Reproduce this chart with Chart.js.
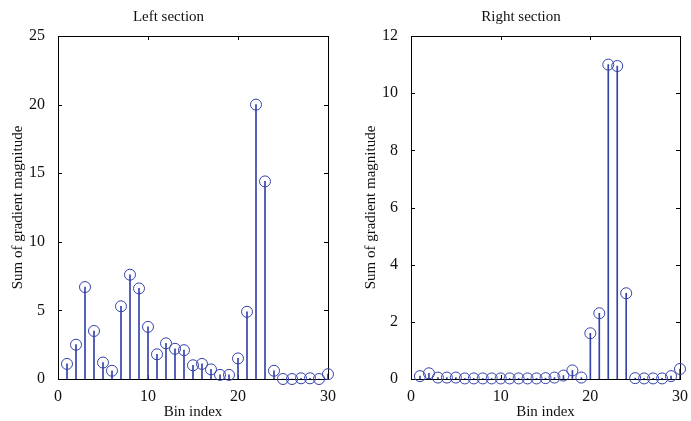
<!DOCTYPE html>
<html>
<head>
<meta charset="utf-8">
<script src="https://cdn.jsdelivr.net/npm/chart.js@4.4.0/dist/chart.umd.min.js"></script>
<style>
  html, body { margin: 0; padding: 0; background: #fff; }
  .wrap { position: absolute; top: 0; height: 421px; }
  #leftWrap { left: 0; width: 340px; }
  #rightWrap { left: 353px; width: 338px; }
</style>
</head>
<body>
<div class="wrap" id="leftWrap"><canvas id="leftChart"></canvas></div>
<div class="wrap" id="rightWrap"><canvas id="rightChart"></canvas></div>
<script>
var bins = [1,2,3,4,5,6,7,8,9,10,11,12,13,14,15,16,17,18,19,20,21,22,23,24,25,26,27,28,29,30];
var leftValues = [1.1,2.5,6.7,3.5,1.2,0.6,5.3,7.6,6.6,3.8,1.8,2.6,2.2,2.1,1.0,1.1,0.7,0.3,0.3,1.5,4.9,20.0,14.4,0.6,0.0,0.0,0.05,0.05,0.0,0.35];
var rightValues = [0.1,0.2,0.05,0.05,0.05,0.02,0.02,0.02,0.02,0.02,0.02,0.02,0.02,0.02,0.03,0.05,0.12,0.3,0.05,1.6,2.3,11.0,10.95,3.0,0.03,0.02,0.02,0.02,0.1,0.35];
var xTicks = [0,10,20,30];
var leftYTicks = [0,5,10,15,20,25];
var rightYTicks = [0,2,4,6,8,10,12];

var markColor = '#3442aa';
var serif = '"Liberation Serif", "DejaVu Serif", serif';

var framePlugin = {
  id: 'frame',
  beforeDatasetsDraw: function (chart) {
    var ctx = chart.ctx, a = chart.chartArea, x = chart.scales.x, y = chart.scales.y;
    ctx.save();
    ctx.strokeStyle = '#000';
    ctx.lineWidth = 1;
    ctx.strokeRect(Math.round(a.left) + 0.5, Math.round(a.top) + 0.5, Math.round(a.width), Math.round(a.height));
    ctx.beginPath();
    x.ticks.forEach(function (t) {
      var px = Math.round(x.getPixelForValue(t.value)) + 0.5;
      ctx.moveTo(px, a.bottom); ctx.lineTo(px, a.bottom - 4);
      ctx.moveTo(px, a.top); ctx.lineTo(px, a.top + 4);
    });
    y.ticks.forEach(function (t) {
      var py = Math.round(y.getPixelForValue(t.value)) + 0.5;
      ctx.moveTo(a.left, py); ctx.lineTo(a.left + 4, py);
      ctx.moveTo(a.right, py); ctx.lineTo(a.right - 4, py);
    });
    ctx.stroke();
    ctx.restore();
  }
};

function makeStemChart(id, title, values, yTicks, padRight) {
  var pts = bins.map(function (b, i) { return { x: b, y: values[i] }; });
  return new Chart(document.getElementById(id), {
    type: 'bar',
    data: {
      datasets: [
        {
          type: 'scatter',
          data: pts,
          showLine: false,
          pointStyle: 'circle',
          pointRadius: 5.5,
          pointBorderWidth: 1,
          pointBorderColor: markColor,
          pointBackgroundColor: 'rgba(0,0,0,0)',
          clip: false,
          order: 0
        },
        {
          type: 'bar',
          data: pts,
          backgroundColor: markColor,
          barThickness: 1,
          borderWidth: 0,
          order: 1
        }
      ]
    },
    options: {
      responsive: true,
      maintainAspectRatio: false,
      animation: false,
      events: [],
      layout: { padding: { left: 9, right: padRight, top: 0, bottom: 0 } },
      plugins: {
        legend: { display: false },
        tooltip: { enabled: false },
        title: {
          display: true,
          text: title,
          color: '#111',
          font: { family: serif, size: 15, weight: 'normal' },
          padding: { top: 8, bottom: 10 }
        }
      },
      scales: {
        x: {
          type: 'linear',
          offset: false,
          min: 0,
          max: 30,
          afterBuildTicks: function (s) { s.ticks = xTicks.map(function (v) { return { value: v }; }); },
          afterFit: function (s) { s.height = 42; },
          grid: { display: false, offset: false },
          border: { display: false },
          ticks: { color: '#111', font: { family: serif, size: 16 }, padding: 0, maxRotation: 0 },
          title: { display: true, text: 'Bin index', color: '#111', font: { family: serif, size: 15 }, padding: 0 }
        },
        y: {
          min: 0,
          max: yTicks[yTicks.length - 1],
          afterBuildTicks: function (s) { s.ticks = yTicks.map(function (v) { return { value: v }; }); },
          afterFit: function (s) { s.width = 49; },
          grid: { display: false },
          border: { display: false },
          ticks: { color: '#111', font: { family: serif, size: 16 }, padding: 5 },
          title: { display: true, text: 'Sum of gradient magnitude', color: '#111', font: { family: serif, size: 15 }, padding: 0 }
        }
      }
    },
    plugins: [framePlugin]
  });
}

makeStemChart('leftChart', 'Left section', leftValues, leftYTicks, 12);
makeStemChart('rightChart', 'Right section', rightValues, rightYTicks, 11);
</script>
</body>
</html>
